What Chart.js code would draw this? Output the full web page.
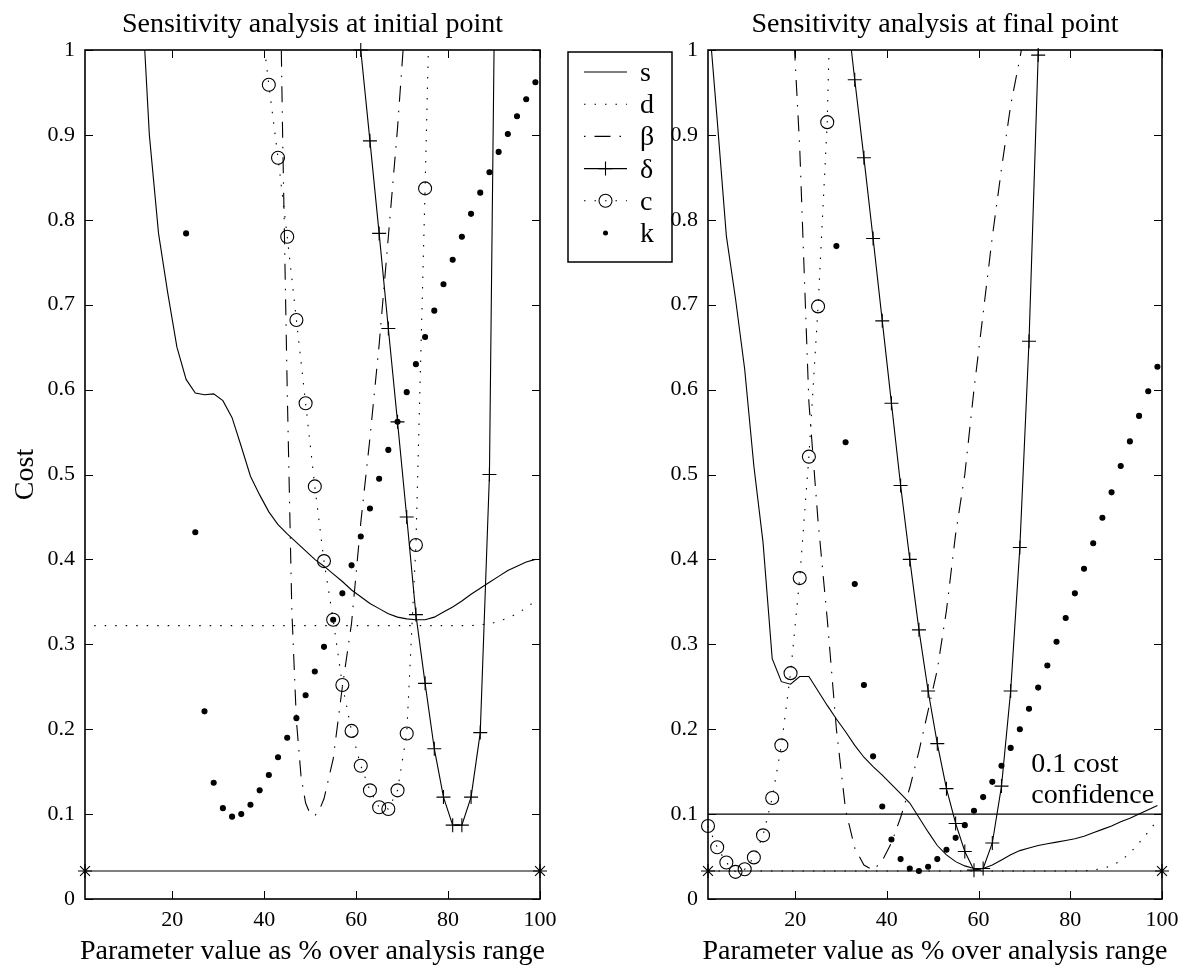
<!DOCTYPE html>
<html>
<head>
<meta charset="utf-8">
<script src="https://cdn.jsdelivr.net/npm/chart.js"></script>
<style>
html,body{margin:0;padding:0;background:#fff;width:1192px;height:966px;overflow:hidden}
canvas{position:absolute;top:0}
#cA{left:0}
#cB{left:600px}
</style>
</head>
<body>
<canvas id="cA" width="690" height="966"></canvas>
<canvas id="cB" width="592" height="966"></canvas>
<script>
// ---------- axes ----------
const xTicks = [20, 40, 60, 80, 100];
const yTicks = [0, 0.1, 0.2, 0.3, 0.4, 0.5, 0.6, 0.7, 0.8, 0.9, 1];
const yTickLabels = ['0', '0.1', '0.2', '0.3', '0.4', '0.5', '0.6', '0.7', '0.8', '0.9', '1'];
const xLabel = 'Parameter value as % over analysis range';
const yLabel = 'Cost';
const titles = ['Sensitivity analysis at initial point', 'Sensitivity analysis at final point'];
const legendLabels = ['s', 'd', 'β', 'δ', 'c', 'k'];
const confText = ['0.1 cost', 'confidence'];

// reference lines
const refX = [1, 100];
const refY = [0.033, 0.033];
const confX = [1, 100];
const confY = [0.1, 0.1];

// ---------- initial point ----------
const sInitX = [13,15,17,19,21,23,25,27,29,31,33,35,37,39,41,43,45,47,49,51,53,55,57,59,61,63,65,67,69,71,73,75,77,79,81,83,85,87,89,91,93,95,97,99];
const sInitY = [1.10,0.90,0.784,0.714,0.650,0.612,0.596,0.594,0.595,0.587,0.567,0.533,0.498,0.476,0.456,0.441,0.430,0.420,0.410,0.400,0.392,0.383,0.374,0.364,0.356,0.348,0.342,0.336,0.332,0.330,0.329,0.329,0.332,0.338,0.344,0.351,0.359,0.366,0.373,0.380,0.387,0.392,0.397,0.400];
const dInitX = [3,85,87,89,91,93,95,97,99];
const dInitY = [0.322,0.322,0.323,0.324,0.327,0.331,0.336,0.343,0.351];
const bInitX = [43,44,45,46,47,48,49,50,51,52,53,55,57,59,61,63,65,67,69,71];
const bInitY = [1.25,0.90,0.60,0.34,0.21,0.145,0.113,0.100,0.098,0.105,0.118,0.165,0.250,0.325,0.443,0.543,0.653,0.780,0.908,1.06];
const dlInitX = [59,61,63,65,67,69,71,73,75,77,79,81,83,85,87,89,91];
const dlInitY = [1.11,1.0,0.893,0.784,0.672,0.562,0.45,0.335,0.254,0.177,0.12,0.087,0.087,0.12,0.196,0.5,1.5];
const cInitX = [39,41,43,45,47,49,51,53,55,57,59,61,63,65,67,69,71,73,75,77];
const cInitY = [1.05,0.959,0.873,0.780,0.682,0.584,0.486,0.398,0.329,0.252,0.198,0.157,0.128,0.108,0.106,0.128,0.195,0.417,0.837,1.30];
const kInitX = [23,25,27,29,31,33,35,37,39,41,43,45,47,49,51,53,55,57,59,61,63,65,67,69,71,73,75,77,79,81,83,85,87,89,91,93,95,97,99];
const kInitY = [0.784,0.432,0.221,0.137,0.107,0.097,0.100,0.111,0.128,0.146,0.167,0.190,0.213,0.240,0.268,0.297,0.329,0.360,0.393,0.427,0.460,0.495,0.529,0.562,0.597,0.630,0.662,0.693,0.724,0.753,0.780,0.807,0.832,0.856,0.880,0.901,0.922,0.942,0.962];

// ---------- final point ----------
const sFinX = [1,3,5,7,9,11,13,15,17,19,21,23,25,27,29,31,33,35,37,39,41,43,45,47,49,51,53,55,57,59,61,63,65,67,69,71,73,75,77,79,81,83,85,87,89,91,93,95,97,99];
const sFinY = [1.05,0.918,0.781,0.707,0.624,0.51,0.42,0.283,0.256,0.253,0.262,0.262,0.245,0.228,0.212,0.197,0.181,0.167,0.156,0.146,0.135,0.124,0.113,0.096,0.079,0.063,0.052,0.044,0.039,0.036,0.036,0.040,0.046,0.052,0.057,0.060,0.063,0.065,0.067,0.069,0.071,0.074,0.078,0.082,0.086,0.091,0.095,0.100,0.105,0.110];
const dFinX = [1,83,85,87,89,91,93,95,97,99];
const dFinY = [0.033,0.033,0.034,0.036,0.039,0.045,0.054,0.066,0.079,0.093];
const bFinX = [19,21,23,25,27,29,31,33,35,37,39,41,43,45,47,49,51,53,55,57,59,61,63,65,67,69,71];
const bFinY = [1.09,0.885,0.585,0.445,0.33,0.20,0.105,0.06,0.04,0.034,0.045,0.066,0.096,0.131,0.174,0.222,0.27,0.34,0.43,0.50,0.60,0.69,0.78,0.86,0.935,0.99,1.05];
const dlFinX = [31,33,35,37,39,41,43,45,47,49,51,53,55,57,59,61,63,65,67,69,71,73,75];
const dlFinY = [1.06,0.965,0.873,0.778,0.681,0.584,0.487,0.40,0.317,0.245,0.183,0.13,0.089,0.056,0.034,0.036,0.066,0.133,0.245,0.414,0.657,0.994,1.35];
const cFinX = [1,3,5,7,9,11,13,15,17,19,21,23,25,27,29];
const cFinY = [0.086,0.061,0.043,0.032,0.035,0.049,0.075,0.119,0.181,0.266,0.378,0.521,0.698,0.915,1.35];
const kFinX = [29,31,33,35,37,39,41,43,45,47,49,51,53,55,57,59,61,63,65,67,69,71,73,75,77,79,81,83,85,87,89,91,93,95,97,99];
const kFinY = [0.769,0.538,0.371,0.252,0.168,0.109,0.070,0.047,0.036,0.033,0.038,0.047,0.058,0.072,0.087,0.104,0.120,0.138,0.157,0.178,0.200,0.224,0.249,0.275,0.303,0.331,0.360,0.389,0.419,0.449,0.479,0.510,0.539,0.569,0.598,0.627];

// ---------- styles ----------
const K = '#000';
const FONT = '"Liberation Serif", "Times New Roman", serif';
const DOT = [1.5, 9];
const DASHDOT = [16, 9, 1.5, 9];
const LW = 1.1;

const pts = (xs, ys) => xs.map((x, i) => ({x: x, y: ys[i]}));
function lineDs(xs, ys, dash) {
  return {data: pts(xs, ys), showLine: true, borderColor: K, borderWidth: LW,
          borderDash: dash || [], pointRadius: 0, pointHoverRadius: 0, fill: false,
          tension: 0, clip: {left: 0, right: 0, top: 0, bottom: 0}};
}
function markDs(xs, ys, style, r, filled) {
  return {data: pts(xs, ys).filter(p => p.y <= 1.005), showLine: false, pointStyle: style,
          pointRadius: r, pointHoverRadius: r, pointBorderColor: K,
          pointBackgroundColor: filled ? K : 'rgba(0,0,0,0)', pointBorderWidth: LW, clip: false};
}

function drawMarker(ctx, type, px, py) {
  ctx.setLineDash([]);
  ctx.beginPath();
  if (type === 'cross') {
    ctx.moveTo(px - 7, py); ctx.lineTo(px + 7, py);
    ctx.moveTo(px, py - 7); ctx.lineTo(px, py + 7);
    ctx.stroke();
  } else if (type === 'circle') {
    ctx.arc(px, py, 6.5, 0, 2 * Math.PI); ctx.stroke();
  } else if (type === 'dot') {
    ctx.arc(px, py, 2.5, 0, 2 * Math.PI); ctx.fill();
  }
}

const legendStyles = [
  {line: true, dash: [], off: 0, marker: null},
  {line: true, dash: DOT, off: 0, marker: null},
  {line: true, dash: DASHDOT, off: 25, marker: null},
  {line: true, dash: [], off: 0, marker: 'cross'},
  {line: true, dash: DOT, off: 0, marker: 'circle'},
  {line: false, dash: [], off: 0, marker: 'dot'}
];

function drawLegend(ctx) {
  ctx.save();
  ctx.fillStyle = '#fff';
  ctx.fillRect(568, 52, 104, 210);
  ctx.strokeStyle = K; ctx.fillStyle = K;
  ctx.lineWidth = 1.5;
  ctx.setLineDash([]);
  ctx.strokeRect(568, 52, 104, 210);
  ctx.font = '28px ' + FONT;
  ctx.textAlign = 'left';
  ctx.textBaseline = 'alphabetic';
  legendLabels.forEach((lab, i) => {
    const y = 72 + i * 32.2;
    const st = legendStyles[i];
    ctx.lineWidth = LW;
    if (st.line) {
      ctx.setLineDash(st.dash);
      ctx.lineDashOffset = st.off;
      ctx.beginPath(); ctx.moveTo(584, y); ctx.lineTo(627, y); ctx.stroke();
      ctx.lineDashOffset = 0;
    }
    if (st.marker) drawMarker(ctx, st.marker, 605.5, y);
    ctx.setLineDash([]);
    ctx.fillText(lab, 640, y + 9);
  });
  ctx.restore();
}

function framePlugin(o) {
  return {
    id: 'frame' + o.key,
    afterDraw(chart) {
      const ctx = chart.ctx, a = chart.chartArea, x = chart.scales.x, y = chart.scales.y;
      ctx.save();
      ctx.strokeStyle = K; ctx.fillStyle = K;
      ctx.setLineDash([]);
      ctx.lineWidth = 1;
      ctx.beginPath();
      x.ticks.forEach(t => {
        const px = Math.round(x.getPixelForValue(t.value)) + 0.5;
        ctx.moveTo(px, a.bottom); ctx.lineTo(px, a.bottom - 8);
        ctx.moveTo(px, a.top); ctx.lineTo(px, a.top + 8);
      });
      y.ticks.forEach(t => {
        const py = Math.round(y.getPixelForValue(t.value)) + 0.5;
        ctx.moveTo(a.left, py); ctx.lineTo(a.left + 8, py);
        ctx.moveTo(a.right, py); ctx.lineTo(a.right - 8, py);
      });
      ctx.stroke();
      ctx.lineWidth = 1.6;
      ctx.strokeRect(a.left, a.top, a.right - a.left, a.bottom - a.top);
      const cx = (a.left + a.right) / 2;
      ctx.font = '28px ' + FONT;
      ctx.textAlign = 'center';
      ctx.textBaseline = 'alphabetic';
      ctx.fillText(o.title, cx, 32);
      ctx.fillText(xLabel, cx, 959);
      if (o.yLabel) {
        ctx.save();
        ctx.translate(33, (a.top + a.bottom) / 2);
        ctx.rotate(-Math.PI / 2);
        ctx.fillText(o.yLabel, 0, 0);
        ctx.restore();
      }
      if (o.extra) o.extra(chart, ctx);
      ctx.restore();
    }
  };
}

function makeChart(id, o) {
  return new Chart(document.getElementById(id), {
    type: 'scatter',
    data: {datasets: o.datasets},
    options: {
      responsive: false, animation: false, devicePixelRatio: 1, events: [],
      layout: {padding: {left: 0, right: o.padRight, top: 50, bottom: 0}},
      plugins: {legend: {display: false}, tooltip: {enabled: false}, title: {display: false}},
      scales: {
        x: {type: 'linear', min: 1, max: 100,
            afterBuildTicks: s => { s.ticks = xTicks.map(v => ({value: v})); },
            afterFit: s => { s.height = 67; },
            grid: {display: false, drawTicks: false}, border: {display: false},
            ticks: {color: K, font: {family: FONT, size: 22}, padding: 8, maxRotation: 0,
                    autoSkip: false, callback: v => String(v)}},
        y: {type: 'linear', min: 0, max: 1,
            afterBuildTicks: s => { s.ticks = yTicks.map(v => ({value: v})); },
            afterFit: s => { s.width = o.yWidth; },
            grid: {display: false, drawTicks: false}, border: {display: false},
            ticks: {color: K, font: {family: FONT, size: 22}, padding: 10, autoSkip: false,
                    callback: (v, i) => yTickLabels[i]}}
      }
    },
    plugins: [framePlugin(o)]
  });
}

// ---------- left chart ----------
makeChart('cA', {
  key: 'A', title: titles[0], yLabel: yLabel, padRight: 150, yWidth: 85,
  datasets: [
    lineDs(sInitX, sInitY, []),
    lineDs(dInitX, dInitY, DOT),
    lineDs(bInitX, bInitY, DASHDOT),
    lineDs(dlInitX, dlInitY, []),
    markDs(dlInitX, dlInitY, 'cross', 7, false),
    lineDs(cInitX, cInitY, DOT),
    markDs(cInitX, cInitY, 'circle', 6.5, false),
    markDs(kInitX, kInitY, 'circle', 2.5, true),
    lineDs(refX, refY, []),
    markDs(refX, refY, 'star', 7, false)
  ],
  extra: (chart, ctx) => drawLegend(ctx)
});

// ---------- right chart ----------
makeChart('cB', {
  key: 'B', title: titles[1], yLabel: null, padRight: 30, yWidth: 108,
  datasets: [
    lineDs(sFinX, sFinY, []),
    lineDs(dFinX, dFinY, DOT),
    lineDs(bFinX, bFinY, DASHDOT),
    lineDs(dlFinX, dlFinY, []),
    markDs(dlFinX, dlFinY, 'cross', 7, false),
    lineDs(cFinX, cFinY, DOT),
    markDs(cFinX, cFinY, 'circle', 6.5, false),
    markDs(kFinX, kFinY, 'circle', 2.5, true),
    lineDs(confX, confY, []),
    lineDs(refX, refY, []),
    markDs(refX, refY, 'star', 7, false)
  ],
  extra: (chart, ctx) => {
    const x = chart.scales.x, y = chart.scales.y;
    ctx.font = '28px ' + FONT;
    ctx.textAlign = 'left';
    ctx.textBaseline = 'alphabetic';
    ctx.fillText(confText[0], x.getPixelForValue(71.5), y.getPixelForValue(0.15));
    ctx.fillText(confText[1], x.getPixelForValue(71.5), y.getPixelForValue(0.113));
  }
});
</script>
</body>
</html>
